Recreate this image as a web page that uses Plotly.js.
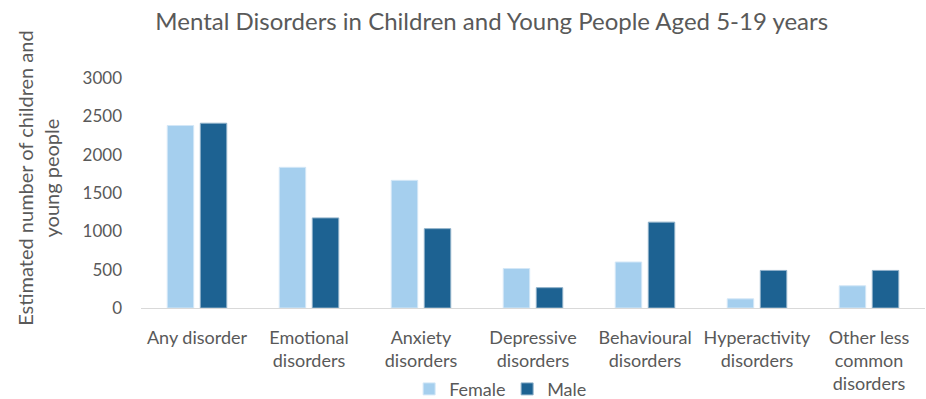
<!DOCTYPE html>
<html>
<head>
<meta charset="utf-8">
<script src="https://cdn.plot.ly/plotly-3.0.1.min.js"></script>
<style>html,body{margin:0;padding:0;background:#fff;}#chart{width:926px;height:399px;}</style>
</head>
<body>
<div id="chart"></div>
<script>
var categories = ["Any disorder", "Emotional<br>disorders", "Anxiety<br>disorders", "Depressive<br>disorders", "Behavioural<br>disorders", "Hyperactivity<br>disorders", "Other less<br>common<br>disorders"];
var femaleValues = [2380, 1835, 1665, 515, 600, 120, 290];
var maleValues = [2410, 1175, 1035, 265, 1120, 490, 490];
var yTickValues = [0, 500, 1000, 1500, 2000, 2500, 3000];
var yTickLabels = ["0", "500", "1000", "1500", "2000", "2500", "3000"];
var yAxisTitle = "Estimated number of children and<br>young people";
var chartTitle = "Mental Disorders in Children and Young People Aged 5-19 years";

var fontFam = "Lato, 'Open Sans', sans-serif";
var traces = [
  {type: "bar", name: "Female", x: categories, y: femaleValues,
   marker: {color: "#A5CFEE", line: {color: "#D3E7F7", width: 1}}},
  {type: "bar", name: "Male", x: categories, y: maleValues,
   marker: {color: "#1D6292", line: {color: "#8EB0C9", width: 1}}}
];
var layout = {
  width: 926, height: 399,
  margin: {l: 141, r: 1, t: 78, b: 91, autoexpand: false},
  paper_bgcolor: "#fff", plot_bgcolor: "#fff",
  font: {family: fontFam, color: "#595959", size: 17},
  title: {text: chartTitle,
          font: {family: fontFam, size: 24, color: "#595959"},
          x: 0.531, xanchor: "center", y: 0.945, yanchor: "middle"},
  barmode: "group", bargap: 0.41, bargroupgap: 0.2,
  showlegend: true,
  legend: {orientation: "h", x: 0.467, xanchor: "center", y: -0.353, yanchor: "middle",
           font: {size: 18, color: "#595959"}, traceorder: "normal", itemwidth: 30,
           entrywidth: 53},
  xaxis: {showgrid: false, zeroline: false, showline: true, linecolor: "#D9D9D9", linewidth: 1,
          ticks: "", tickangle: 0, automargin: false, ticklabelstandoff: 13,
          tickfont: {size: 18, color: "#595959"}},
  yaxis: {range: [0, 3000], tickvals: yTickValues, ticktext: yTickLabels, automargin: false,
          showgrid: false, zeroline: false, showline: false, ticks: "",
          ticklabelstandoff: 18, tickfont: {size: 17, color: "#595959"}},
  annotations: [{text: yAxisTitle, textangle: -90, xref: "paper", yref: "paper",
                 x: -141/784 + 38/784, xanchor: "center", y: (308.5-179)/230.5, yanchor: "middle",
                 showarrow: false, font: {size: 20, color: "#595959"}}]
};
Plotly.newPlot("chart", traces, layout, {displayModeBar: false, staticPlot: true});
</script>
</body>
</html>
